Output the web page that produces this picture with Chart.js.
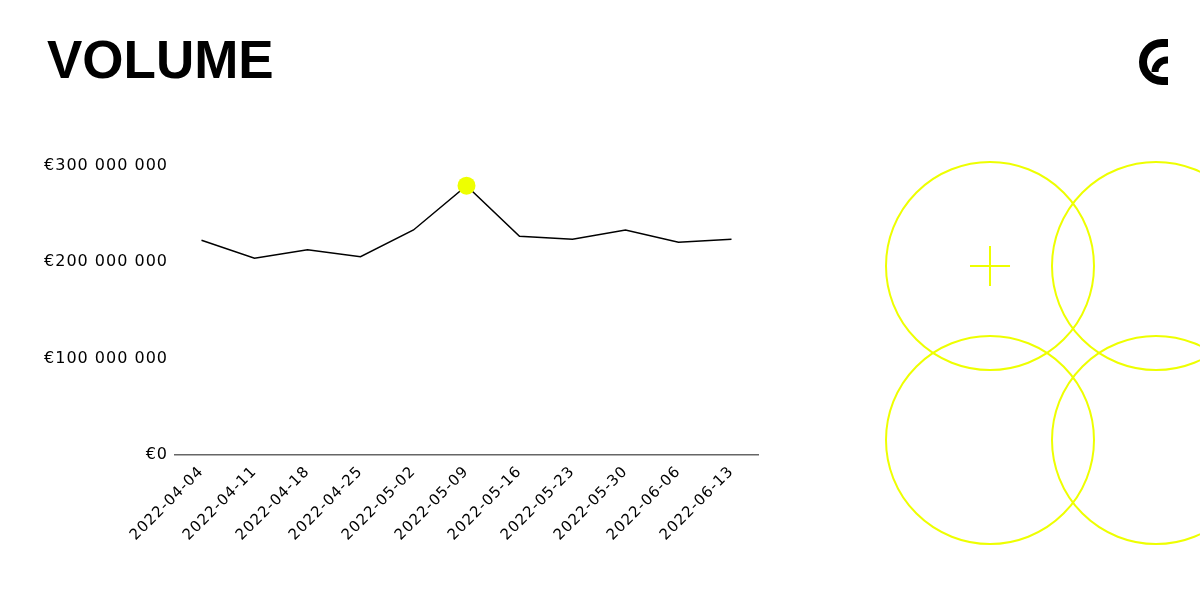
<!DOCTYPE html>
<html>
<head>
<meta charset="utf-8">
<script src="https://cdn.jsdelivr.net/npm/chart.js@4"></script>
<style>
  html, body { margin: 0; padding: 0; background: #fff; }
  #wrap { width: 1200px; height: 600px; position: relative; }
</style>
</head>
<body>
<div id="wrap"><canvas id="chart" width="1200" height="600"></canvas></div>
<script>
// --- Data ---
const weeks = ['2022-04-04', '2022-04-11', '2022-04-18', '2022-04-25', '2022-05-02', '2022-05-09',
  '2022-05-16', '2022-05-23', '2022-05-30', '2022-06-06', '2022-06-13'];
const volume = [222900000, 204200000, 213100000, 205900000, 233600000, 279600000,
  227000000, 223900000, 233600000, 220800000, 223900000];
const yTicks = [0, 100000000, 200000000, 300000000];

const YELLOW = '#eeff00';
const peak = Math.max(...volume);

const fmtEuro = v => '€' + Math.round(v).toString().replace(/\B(?=(\d{3})+(?!\d))/g, ' ');

// --- Decorations: title, logo, circles ---
const decor = {
  id: 'decor',
  beforeUpdate(chart) { chart.ctx.letterSpacing = '1px'; },
  beforeDraw(chart) { chart.ctx.letterSpacing = '1px'; },
  afterDraw(chart) {
    const ctx = chart.ctx;
    ctx.save();
    ctx.letterSpacing = '0px';

    // title
    ctx.fillStyle = '#000';
    ctx.font = 'bold 53px "Liberation Sans", Arial, sans-serif';
    ctx.textBaseline = 'alphabetic';
    ctx.fillText('VOLUME', 47, 78);

    // logo
    ctx.strokeStyle = '#000';
    ctx.lineWidth = 8;
    ctx.beginPath();
    ctx.moveTo(1168, 43);
    ctx.lineTo(1162, 43);
    ctx.arc(1162, 62, 19, -Math.PI / 2, Math.PI / 2, true);
    ctx.lineTo(1168, 81);
    ctx.stroke();
    ctx.lineWidth = 7;
    ctx.beginPath();
    ctx.arc(1167, 72, 12, Math.PI, Math.PI * 1.5, false);
    ctx.lineTo(1168, 60);
    ctx.stroke();

    // circles
    ctx.strokeStyle = YELLOW;
    ctx.lineWidth = 2;
    [[990, 266], [1156, 266], [990, 440], [1156, 440]].forEach(([cx, cy]) => {
      ctx.beginPath();
      ctx.arc(cx, cy, 104, 0, Math.PI * 2);
      ctx.stroke();
    });
    ctx.beginPath();
    ctx.moveTo(970, 266); ctx.lineTo(1010, 266);
    ctx.moveTo(990, 246); ctx.lineTo(990, 286);
    ctx.stroke();
    ctx.restore();
  }
};

new Chart(document.getElementById('chart'), {
  type: 'line',
  data: {
    labels: weeks,
    datasets: [{
      data: volume,
      borderColor: '#000',
      borderWidth: 1.5,
      tension: 0,
      pointRadius: ctx => ctx.raw === peak ? 9 : 0,
      pointHoverRadius: ctx => ctx.raw === peak ? 9 : 0,
      pointBackgroundColor: YELLOW,
      pointBorderWidth: 0
    }]
  },
  options: {
    responsive: false,
    animation: false,
    layout: { padding: { top: 166, right: 442, left: 0, bottom: 0 } },
    plugins: { legend: { display: false }, tooltip: { enabled: false } },
    scales: {
      x: {
        offset: true,
        grid: { display: false, drawTicks: false },
        border: { display: true, color: '#666', width: 1.5 },
        afterFit: s => { s.height = 145; },
        ticks: {
          color: '#000',
          padding: 8,
          minRotation: 45,
          maxRotation: 45,
          font: { family: '"DejaVu Sans", sans-serif', size: 15 }
        }
      },
      y: {
        min: 0,
        max: 300000000,
        grid: { display: false, drawTicks: false },
        border: { display: false },
        afterFit: s => { s.width = 175; },
        afterBuildTicks: s => { s.ticks = yTicks.map(v => ({ value: v })); },
        ticks: {
          color: '#000',
          padding: 7,
          callback: v => fmtEuro(v),
          font: { family: '"DejaVu Sans", sans-serif', size: 16 }
        }
      }
    }
  },
  plugins: [decor]
});
</script>
</body>
</html>
